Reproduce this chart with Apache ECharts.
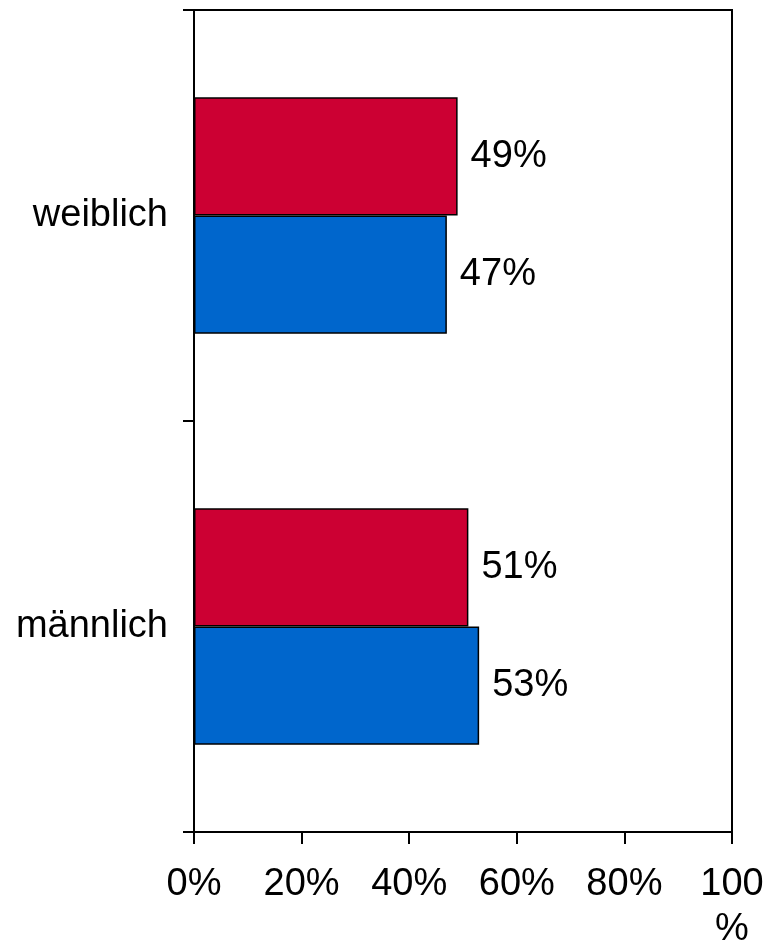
<!DOCTYPE html>
<html>
<head>
<meta charset="utf-8">
<script src="https://cdn.jsdelivr.net/npm/echarts@6/dist/echarts.min.js"></script>
<style>html,body{margin:0;padding:0;background:#fff;overflow:hidden}#c{width:772px;height:952px}</style>
</head>
<body>
<div id="c"></div>
<script>
var categories = ['männlich', 'weiblich'];
var redValues = [51, 49];
var blueValues = [53, 47];
var xTicks = [0, 20, 40, 60, 80, 100];

var FONT = '"Liberation Sans", Arial, sans-serif';
var chart = echarts.init(document.getElementById('c'), null, {renderer: 'canvas'});
var labelStyle = {
  show: true, position: 'right', distance: 13,
  formatter: '{c}%', color: '#000', fontSize: 38, fontFamily: FONT
};
chart.setOption({
  animation: false,
  backgroundColor: '#fff',
  grid: {left: 194, right: 40, top: 10, bottom: 112, show: true, borderColor: '#000', borderWidth: 2, containLabel: false},
  xAxis: {
    type: 'value', min: xTicks[0], max: xTicks[xTicks.length - 1], interval: 20,
    splitLine: {show: false},
    axisLine: {show: true, lineStyle: {color: '#000', width: 2}},
    axisTick: {show: true, length: 12, lineStyle: {color: '#000', width: 2}},
    axisLabel: {
      color: '#000', fontSize: 38, fontFamily: FONT, margin: 30, lineHeight: 45,
      formatter: function (v) { return v === 100 ? '100\n%' : v + '%'; }
    }
  },
  yAxis: {
    type: 'category', data: categories,
    axisLine: {show: true, lineStyle: {color: '#000', width: 2}},
    axisTick: {show: true, length: 11, lineStyle: {color: '#000', width: 2}},
    axisLabel: {color: '#000', fontSize: 38, fontFamily: FONT, margin: 26}
  },
  series: [
    {
      name: 'red', type: 'bar', data: redValues, barGap: '0%', barCategoryGap: '42.4%',
      itemStyle: {color: '#CC0033', borderColor: '#000', borderWidth: 1.5},
      label: labelStyle
    },
    {
      name: 'blue', type: 'bar', data: blueValues, barGap: '0%', barCategoryGap: '42.4%',
      itemStyle: {color: '#0066CC', borderColor: '#000', borderWidth: 1.5},
      label: labelStyle
    }
  ]
});
</script>
</body>
</html>
